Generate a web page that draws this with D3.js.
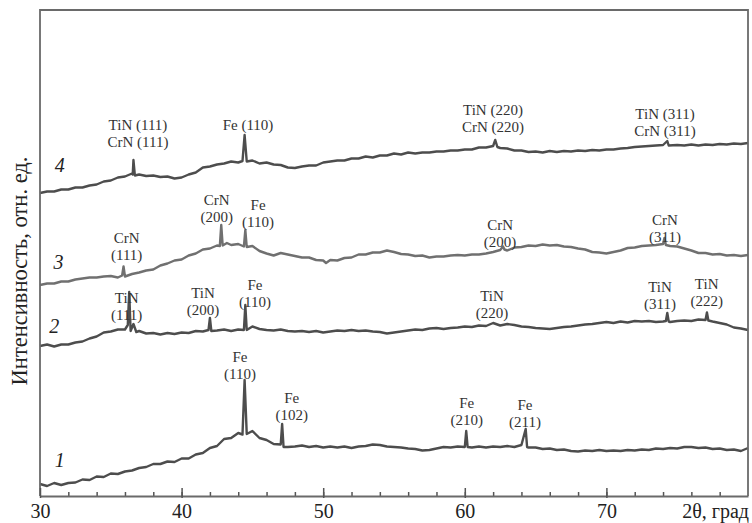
<!DOCTYPE html>
<html>
<head>
<meta charset="utf-8">
<script src="https://cdn.jsdelivr.net/npm/d3@7"></script>
<style>
  body { margin: 0; background: #fff; }
  text { font-family: "Liberation Serif", "Times New Roman", serif; }
</style>
</head>
<body>
<div id="chart"></div>
<script>
// XRD patterns, 2θ (deg) vs intensity (arb. units), curves 1..4 offset vertically
const curve1 = [
  [30,2.4],[30.5,2.0],[31,2.6],[31.5,2.2],[32,2.6],[32.5,2.7],[33,3.3],[33.5,3.2],[34,3.9],[34.5,3.8],
  [35,4.5],[35.5,4.4],[36,4.9],[36.5,5.1],[37,5.6],[37.5,5.8],[38,6.4],[38.5,6.4],[39,6.9],[39.5,6.8],
  [40,7.5],[40.5,7.5],[41,8.3],[41.5,8.6],[42,9.6],[42.5,10.0],[43,11.4],[43.5,11.6],[44,12.6],[44.3,12.3],
  [44.45,23.2],[44.6,12.4],[45,13.0],[45.5,11.6],[46,11.2],[46.5,10.4],[47,10.3],[47.1,14.4],[47.2,9.8],[47.5,9.8],
  [48,9.9],[48.5,10.1],[49,9.8],[49.5,10.0],[50,9.7],[50.5,9.9],[51,9.7],[51.5,9.9],[52,9.6],[52.5,9.9],
  [53,10.0],[53.5,10.3],[54,10.2],[54.5,9.9],[55,9.8],[55.5,9.7],[56,9.5],[56.5,9.4],[57,9.1],[57.5,9.2],
  [58,9.5],[58.5,9.8],[59,9.7],[59.5,9.9],[60,9.8],[60.1,13.0],[60.2,9.8],[60.5,9.7],[61,9.9],[61.5,9.7],
  [62,9.9],[62.5,9.8],[63,10.0],[63.5,9.8],[64,10.2],[64.3,13.4],[64.4,9.8],[64.5,9.7],[65,9.7],[65.5,9.4],
  [66,9.5],[66.5,9.2],[67,9.3],[67.5,9.0],[68,8.9],[68.5,9.1],[69,9.0],[69.5,9.2],[70,9.0],[70.5,9.1],
  [71,9.0],[71.5,9.2],[72,9.1],[72.5,9.3],[73,9.2],[73.5,9.5],[74,9.4],[74.5,9.6],[75,9.5],[75.5,9.8],
  [76,9.8],[76.5,9.6],[77,9.7],[77.5,9.4],[78,9.5],[78.5,9.2],[79,9.3],[79.5,9.0],[80,9.6]
];
const curve2 = [
  [30,30.0],[30.5,30.3],[31,29.9],[31.5,30.3],[32,30.3],[32.5,30.7],[33,30.9],[33.5,31.5],[34,31.9],[34.5,32.7],
  [35,32.9],[35.5,33.3],[36,33.3],[36.2,34.2],[36.3,40.8],[36.4,33.0],[36.6,34.4],[36.8,32.8],[37,33.0],[37.5,32.5],
  [38,32.6],[38.5,32.3],[39,32.6],[39.5,32.4],[40,32.7],[40.5,32.6],[41,33.0],[41.5,32.9],[41.9,33.2],[42.0,35.6],
  [42.1,33.0],[42.5,33.1],[43,33.3],[43.5,33.0],[44,33.3],[44.4,33.2],[44.5,38.2],[44.6,33.2],[45,33.9],[45.5,33.4],
  [46,33.2],[46.5,33.1],[47,33.3],[47.5,33.0],[48,32.9],[48.5,33.0],[49,32.8],[49.5,33.0],[50,32.7],[50.5,32.9],
  [51,33.1],[51.5,33.0],[52,33.2],[52.5,33.0],[53,33.1],[53.5,32.9],[54,32.8],[54.5,32.5],[55,32.7],[55.5,32.9],
  [56,33.1],[56.5,33.3],[57,33.2],[57.5,33.5],[58,33.6],[58.5,33.4],[59,33.6],[59.5,33.7],[60,33.9],[60.5,33.8],
  [61,34.1],[61.5,34.0],[62,34.6],[62.5,34.1],[63,34.4],[63.5,34.2],[64,33.9],[64.5,33.8],[65,33.6],[65.5,33.5],
  [66,33.4],[66.5,33.6],[67,33.8],[67.5,33.9],[68,34.1],[68.5,34.3],[69,34.4],[69.5,34.6],[70,34.8],[70.5,34.6],
  [71,34.9],[71.5,34.7],[72,35.0],[72.5,34.9],[73,35.0],[73.5,34.8],[74,34.9],[74.2,35.0],[74.3,36.6],[74.4,34.9],
  [74.5,34.8],[75,35.0],[75.5,35.1],[76,35.0],[76.5,35.3],[77,35.2],[77.1,36.7],[77.2,35.1],[77.5,34.9],[78,34.6],
  [78.5,34.3],[79,33.7],[79.5,33.5],[80,33.2]
];
const curve3 = [
  [30,42.2],[30.5,42.5],[31,42.5],[31.5,42.9],[32,42.9],[32.5,43.3],[33,43.5],[33.5,43.7],[34,43.7],[34.5,43.9],
  [35,44.0],[35.5,43.7],[35.8,44.1],[35.9,45.9],[36.0,43.9],[36.5,44.4],[37,44.7],[37.5,45.1],[38,45.3],[38.5,46.1],
  [39,46.5],[39.5,47.1],[40,47.3],[40.5,48.1],[41,48.5],[41.5,49.3],[42,49.5],[42.5,50.1],[42.7,50.0],[42.8,54.2],
  [42.9,50.1],[43.2,50.6],[43.5,50.2],[44,50.4],[44.4,49.9],[44.5,53.2],[44.6,49.8],[45,50.0],[45.5,49.0],[46,48.5],
  [46.5,48.1],[47,48.6],[47.5,48.3],[48,48.0],[48.5,47.7],[49,47.7],[49.5,47.2],[50,47.1],[50.2,46.6],[50.5,47.2],
  [51,47.1],[51.5,47.6],[52,47.7],[52.5,48.3],[53,48.3],[53.5,48.7],[54,48.7],[54.5,49.1],[55,48.8],[55.5,48.4],
  [56,48.3],[56.5,48.0],[57,48.1],[57.5,47.7],[58,47.9],[58.5,47.9],[59,48.1],[59.5,48.2],[60,48.1],[60.5,48.3],
  [61,48.3],[61.5,48.5],[62,48.8],[62.5,49.2],[62.7,49.9],[62.8,49.3],[63,49.1],[63.5,49.7],[64,49.8],[64.5,50.1],
  [65,50.0],[65.5,50.3],[66,50.1],[66.5,50.2],[67,49.9],[67.5,49.8],[68,49.5],[68.5,49.3],[69,48.8],[69.5,48.7],
  [70,48.5],[70.5,48.8],[71,49.1],[71.5,49.6],[72,49.7],[72.5,50.0],[73,50.1],[73.5,50.2],[74,50.4],[74.1,51.6],
  [74.2,50.2],[74.5,50.0],[75,49.9],[75.5,49.5],[76,49.1],[76.5,48.6],[77,48.6],[77.5,48.3],[78,48.4],[78.5,48.1],
  [79,48.2],[79.5,48.0],[80,48.2]
];
const curve4 = [
  [30,60.6],[30.5,60.9],[31,60.9],[31.5,61.3],[32,61.3],[32.5,61.7],[33,61.7],[33.5,62.1],[34,62.3],[34.5,62.9],
  [35,63.1],[35.5,63.7],[36,63.9],[36.5,64.5],[36.55,64.3],[36.6,67.2],[36.7,64.1],[37,64.3],[37.5,64.0],[38,64.1],
  [38.5,63.8],[39,63.9],[39.5,63.5],[40,63.7],[40.5,64.3],[41,64.7],[41.5,65.7],[42,65.9],[42.5,66.3],[43,66.5],
  [43.5,66.9],[44,66.7],[44.3,67.0],[44.45,72.2],[44.6,66.9],[45,67.1],[45.5,66.5],[46,66.7],[46.5,66.3],[47,66.2],
  [47.5,65.7],[48,65.6],[48.5,65.9],[49,66.1],[49.5,66.1],[50,66.7],[50.5,66.9],[51,67.1],[51.5,67.1],[52,67.5],
  [52.5,67.5],[53,67.9],[53.5,67.7],[54,68.1],[54.5,68.1],[55,68.5],[55.5,68.3],[56,68.7],[56.5,68.5],[57,68.7],
  [57.5,68.7],[58,68.9],[58.5,68.9],[59,69.1],[59.5,69.1],[60,69.3],[60.5,69.3],[61,69.7],[61.5,69.7],[62,70.0],
  [62.15,71.2],[62.3,69.8],[62.5,69.6],[63,69.5],[63.5,69.1],[64,69.1],[64.5,68.8],[65,68.9],[65.5,68.7],[66,69.0],
  [66.5,68.8],[67,69.0],[67.5,68.9],[68,69.1],[68.5,69.0],[69,69.2],[69.5,69.1],[70,69.3],[70.5,69.3],[71,69.5],
  [71.5,69.6],[72,69.8],[72.5,69.9],[73,70.0],[73.5,70.1],[74,70.2],[74.3,71.0],[74.4,70.1],[75,70.2],[75.5,70.1],
  [76,70.3],[76.5,70.1],[77,70.3],[77.5,70.2],[78,70.4],[78.5,70.3],[79,70.5],[79.5,70.4],[80,70.6]
];

const curveNames = ["1", "2", "3", "4"];
// where each curve number sits [2θ, intensity]
const curveNameAt = [[31.4, 7.2], [31.0, 34.0], [31.3, 46.9], [31.4, 66.2]];

// peak annotations: text lines and [2θ, intensity] of the first line
const peakLabels = [
  { lines: ["TiN (111)", "CrN (111)"], at: [36.92, 74.2] },
  { lines: ["Fe (110)"], at: [44.69, 74.2] },
  { lines: ["TiN (220)", "CrN (220)"], at: [61.99, 77.2] },
  { lines: ["TiN (311)", "CrN (311)"], at: [74.14, 76.4] },
  { lines: ["CrN", "(111)"], at: [36.12, 51.6] },
  { lines: ["CrN", "(200)"], at: [42.48, 59.2] },
  { lines: ["Fe", "(110)"], at: [45.40, 58.2] },
  { lines: ["CrN", "(200)"], at: [62.49, 54.2] },
  { lines: ["CrN", "(311)"], at: [74.14, 55.2] },
  { lines: ["TiN", "(111)"], at: [36.12, 39.6] },
  { lines: ["TiN", "(200)"], at: [41.51, 40.6] },
  { lines: ["Fe", "(110)"], at: [45.18, 42.2] },
  { lines: ["TiN", "(220)"], at: [61.92, 40.0] },
  { lines: ["TiN", "(311)"], at: [73.79, 41.8] },
  { lines: ["TiN", "(222)"], at: [77.08, 42.4] },
  { lines: ["Fe", "(110)"], at: [44.12, 27.8] },
  { lines: ["Fe", "(102)"], at: [47.78, 19.6] },
  { lines: ["Fe", "(210)"], at: [60.13, 18.6] },
  { lines: ["Fe", "(211)"], at: [64.25, 18.2] }
];

const xTicks = [30, 40, 50, 60, 70];
const xMinor = d3.range(32, 80, 2);
const xTitle = "2θ, град";
const yTitle = "Интенсивность, отн. ед.";

const width = 752, height = 523;
const margin = { top: 10, right: 4, bottom: 27, left: 40 };

const svg = d3.select("#chart").append("svg")
  .attr("width", width)
  .attr("height", height);

const x = d3.scaleLinear().domain([30, 80]).range([margin.left, width - margin.right]);
const y = d3.scaleLinear().domain([0, 97.2]).range([height - margin.bottom, margin.top]);

const line = d3.line().x(d => x(d[0])).y(d => y(d[1]));

const curves = [curve1, curve2, curve3, curve4];
const curveColors = ["#4d4d4d", "#4d4d4d", "#707070", "#4d4d4d"];

svg.append("g").selectAll("path")
  .data(curves)
  .join("path")
  .attr("d", line)
  .attr("fill", "none")
  .attr("stroke", (d, i) => curveColors[i])
  .attr("stroke-width", 2.4)
  .attr("stroke-linejoin", "round");

// frame: left, top, right
const x0 = x.range()[0], x1 = x.range()[1];
const yb = y.range()[0], yt = y.range()[1];
svg.append("path")
  .attr("d", `M${x0},${yb}V${yt}H${x1}V${yb}`)
  .attr("fill", "none")
  .attr("stroke", "#6a6a6a")
  .attr("stroke-width", 1.8);

// bottom axis
const axisG = svg.append("g").attr("transform", `translate(0,${yb})`);
axisG.call(d3.axisBottom(x).tickValues(xMinor).tickSize(-4).tickFormat(""));
axisG.call(g => g.select(".domain").remove());
axisG.selectAll(".tick line").attr("stroke", "#555").attr("stroke-width", 1.5);

const majorG = svg.append("g").attr("transform", `translate(0,${yb})`);
majorG.call(d3.axisBottom(x).tickValues(xTicks).tickSize(0).tickPadding(0).tickFormat(d3.format("d")));
majorG.select(".domain").attr("stroke", "#6a6a6a").attr("stroke-width", 1.8);
majorG.selectAll(".tick line")
  .attr("y1", -8).attr("y2", 2)
  .attr("stroke", "#555").attr("stroke-width", 1.5);
majorG.selectAll(".tick text")
  .attr("y", 22).attr("dy", null)
  .attr("fill", "#222")
  .style("font-family", '"Liberation Serif", serif')
  .style("font-size", "20px");

svg.append("text")
  .attr("x", 749).attr("y", yb + 22)
  .attr("text-anchor", "end")
  .attr("fill", "#222")
  .style("font-size", "20px")
  .text(xTitle);

svg.append("text")
  .attr("transform", `translate(27,271) rotate(-90)`)
  .attr("text-anchor", "middle")
  .attr("fill", "#222")
  .style("font-size", "22.5px")
  .text(yTitle);

// curve numbers
svg.append("g").selectAll("text")
  .data(curveNames)
  .join("text")
  .attr("x", (d, i) => x(curveNameAt[i][0]))
  .attr("y", (d, i) => y(curveNameAt[i][1]))
  .attr("dy", "0.35em")
  .attr("text-anchor", "middle")
  .attr("fill", "#222")
  .style("font-size", "20px")
  .style("font-style", "italic")
  .text(d => d);

// peak labels
const lbl = svg.append("g").selectAll("text")
  .data(peakLabels)
  .join("text")
  .attr("text-anchor", "middle")
  .attr("fill", "#333")
  .style("font-size", "15px");

lbl.selectAll("tspan")
  .data(d => d.lines.map((t, k) => ({ t, k, at: d.at })))
  .join("tspan")
  .attr("x", d => x(d.at[0]))
  .attr("y", d => y(d.at[1]) + d.k * 16.7)
  .attr("dy", "0.35em")
  .text(d => d.t);
</script>
</body>
</html>
